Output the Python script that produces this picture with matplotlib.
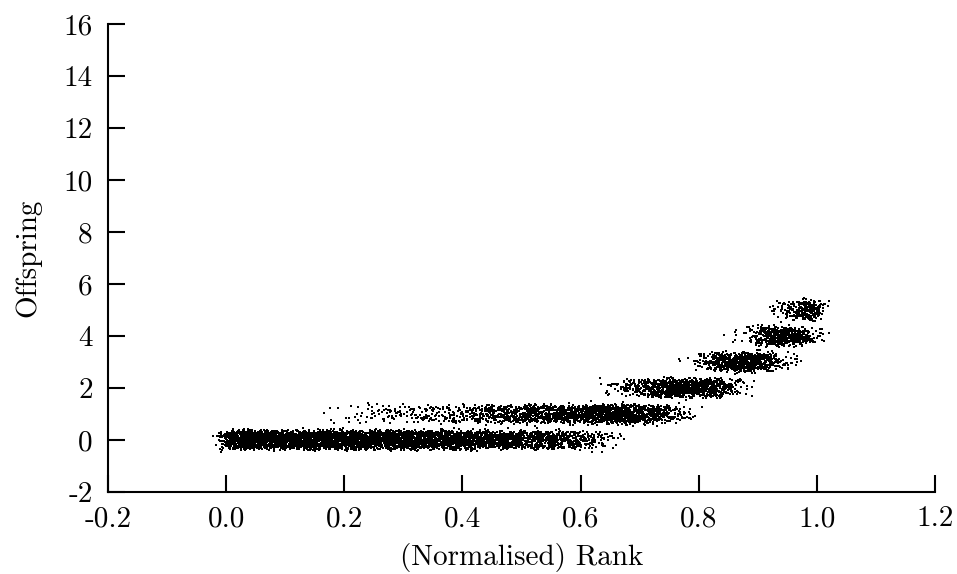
import numpy as np
import matplotlib
matplotlib.use("Agg")
import matplotlib.pyplot as plt

# ========== Font Settings ==========
plt.rcParams['font.family'] = ['cmr10', 'DejaVu Serif']
plt.rcParams['axes.unicode_minus'] = False
plt.rcParams['mathtext.fontset'] = 'cm'

# ========== Data ==========
# individuals counted per rank bin (width 0.025) for each offspring level
bin_width = 0.025
rank_bins = np.arange(40) * bin_width          # left edges of the bins
offspring_levels = [0, 1, 2, 3, 4, 5]
count_off0 = [250, 250, 250, 250, 250, 250, 248, 246, 242, 238,
              232, 228, 225, 222, 220, 215, 200, 180, 160, 145,
              135, 125, 115, 100, 70, 30, 5, 0, 0, 0,
              0, 0, 0, 0, 0, 0, 0, 0, 0, 0]
count_off1 = [0, 0, 0, 0, 0, 0, 2, 4, 8, 12,
              18, 22, 25, 28, 30, 35, 50, 70, 90, 105,
              115, 125, 135, 150, 180, 215, 225, 200, 150, 100,
              40, 10, 0, 0, 0, 0, 0, 0, 0, 0]
count_off2 = [0, 0, 0, 0, 0, 0, 0, 0, 0, 0,
              0, 0, 0, 0, 0, 0, 0, 0, 0, 0,
              0, 0, 0, 0, 0, 5, 20, 50, 100, 150,
              205, 225, 200, 120, 30, 5, 0, 0, 0, 0]
count_off3 = [0, 0, 0, 0, 0, 0, 0, 0, 0, 0,
              0, 0, 0, 0, 0, 0, 0, 0, 0, 0,
              0, 0, 0, 0, 0, 0, 0, 0, 0, 0,
              0, 5, 40, 125, 200, 210, 120, 30, 5, 0]
count_off4 = [0, 0, 0, 0, 0, 0, 0, 0, 0, 0,
              0, 0, 0, 0, 0, 0, 0, 0, 0, 0,
              0, 0, 0, 0, 0, 0, 0, 0, 0, 0,
              0, 0, 0, 0, 5, 20, 120, 190, 160, 60]
count_off5 = [0, 0, 0, 0, 0, 0, 0, 0, 0, 0,
              0, 0, 0, 0, 0, 0, 0, 0, 0, 0,
              0, 0, 0, 0, 0, 0, 0, 0, 0, 0,
              0, 0, 0, 0, 0, 0, 0, 20, 85, 190]
counts = [count_off0, count_off1, count_off2, count_off3, count_off4, count_off5]

x_ticks = [-0.2, 0.0, 0.2, 0.4, 0.6, 0.8, 1.0, 1.2]
x_tick_labels = ['-0.2', '0.0', '0.2', '0.4', '0.6', '0.8', '1.0', '1.2']
y_ticks = [-2, 0, 2, 4, 6, 8, 10, 12, 14, 16]
y_tick_labels = ['-2', '0', '2', '4', '6', '8', '10', '12', '14', '16']

# ========== Build points (even spread within a bin + display jitter) ==========
rng = np.random.default_rng(7)   # jitter only, so dots do not overlap
xs, ys = [], []
for level, level_counts in zip(offspring_levels, counts):
    for left, n in zip(rank_bins, level_counts):
        if n == 0:
            continue
        r = left + (np.arange(n) + 0.5) / n * bin_width
        xs.append(r + rng.normal(0, 0.01, n))
        ys.append(level + rng.uniform(-0.3, 0.3, n) + rng.normal(0, 0.07, n))
xs = np.concatenate(xs)
ys = np.concatenate(ys)

# ========== Plot ==========
fig = plt.figure(figsize=(9.57, 5.74), dpi=100)
ax = fig.add_axes([0.1129, 0.1429, 0.977 - 0.1129, 0.958 - 0.1429])

ax.scatter(xs, ys, s=2.0, marker='s', color='black', linewidths=0)

ax.set_xlim(-0.2, 1.2)
ax.set_ylim(-2, 16)
ax.set_xticks(x_ticks)
ax.set_xticklabels(x_tick_labels)
ax.set_yticks(y_ticks)
ax.set_yticklabels(y_tick_labels)

for side in ['top', 'right']:
    ax.spines[side].set_visible(False)
for side in ['left', 'bottom']:
    ax.spines[side].set_linewidth(1.5)

ax.tick_params(direction='in', length=12, width=1.5, labelsize=21)
ax.tick_params(axis='y', pad=11)
ax.tick_params(axis='x', pad=10)

ax.set_xlabel('(Normalised) Rank', fontsize=21, labelpad=8)
ax.set_ylabel('Offspring', fontsize=21, labelpad=16)

fig.savefig('out.png', dpi=100)
